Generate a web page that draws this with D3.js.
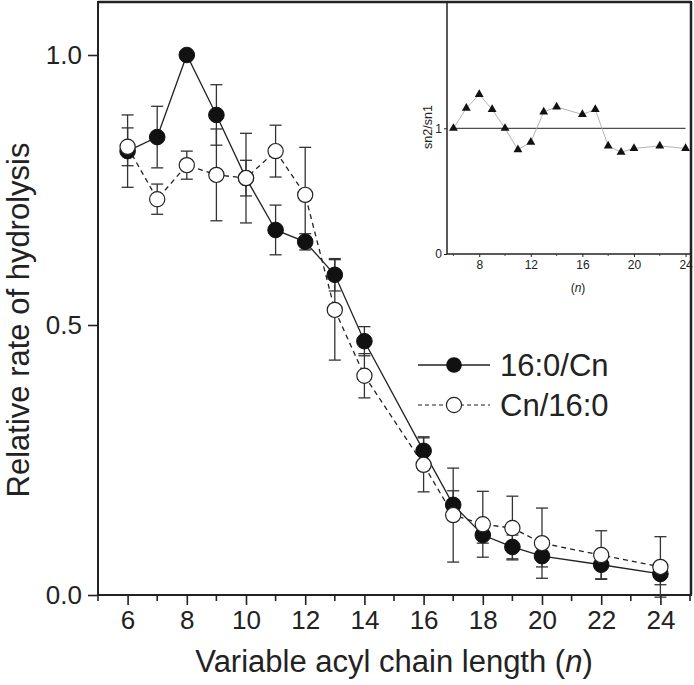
<!DOCTYPE html>
<html><head><meta charset="utf-8">
<script src="https://cdn.jsdelivr.net/npm/d3@7"></script>
<style>body{margin:0;background:#fff}svg{display:block}text{font-family:"Liberation Sans",Arial,sans-serif;fill:#222}</style>
</head><body><svg id="c" width="694" height="685"></svg>
<script>
const chainLength = [6,7,8,9,10,11,12,13,14,16,17,18,19,20,22,24];
const sn2Values = [0.822,0.848,1.0,0.889,0.772,0.676,0.654,0.593,0.470,0.267,0.167,0.111,0.089,0.072,0.056,0.039];
const sn2Errors = [0.067,0.057,0,0.056,0.033,0.046,0.015,0.030,0.027,0.026,0.026,0.015,0.022,0.020,0.026,0.020];
const sn1Values = [0.830,0.733,0.796,0.778,0.772,0.822,0.741,0.528,0.406,0.241,0.148,0.131,0.124,0.096,0.074,0.052];
const sn1Errors = [0.035,0.028,0.026,0.085,0.083,0.048,0.088,0.093,0.041,0.050,0.087,0.061,0.059,0.065,0.045,0.056];
const ratioValues = [1.0,1.16,1.27,1.15,1.0,0.83,0.89,1.13,1.17,1.11,1.15,0.86,0.81,0.84,0.86,0.84];
const mainXTicks = [6,8,10,12,14,16,18,20,22,24];
const mainXMinor = [5,7,9,11,13,15,17,19,21,23,25];
const mainYTicks = [0,0.5,1.0];
const insetXTicks = [8,12,16,20,24];
const insetXMinor = [6,10,14,18,22];
const insetYTicks = [0,1];
const seriesNames = ["16:0/Cn","Cn/16:0"];

const svg = d3.select("#c");
const x = d3.scaleLinear().domain([5,25]).range([98,690]);
const y = d3.scaleLinear().domain([0,1]).range([595,55]);

// frame
svg.append("rect").attr("x",98).attr("y",2).attr("width",593).attr("height",593)
  .attr("fill","none").attr("stroke","#222").attr("stroke-width",2);

// x axis ticks
const gx = svg.append("g").attr("transform","translate(0,595)");
gx.call(d3.axisBottom(x).tickValues(mainXTicks).tickSize(10).tickPadding(6).tickFormat(d3.format("d")));
gx.select(".domain").remove();
gx.selectAll("line").attr("stroke","#222").attr("stroke-width",1.6);
gx.selectAll("text").attr("font-size",26).style("font-family","Liberation Sans, Arial").attr("fill","#222");
gx.selectAll(".minor").data(mainXMinor).enter().append("line").attr("class","minor")
  .attr("x1",d=>x(d)).attr("x2",d=>x(d)).attr("y1",0).attr("y2",6).attr("stroke","#222").attr("stroke-width",1.6);

const gy = svg.append("g").attr("transform","translate(98,0)");
gy.call(d3.axisLeft(y).tickValues(mainYTicks).tickSize(10).tickPadding(6).tickFormat(d3.format(".1f")));
gy.select(".domain").remove();
gy.selectAll("line").attr("stroke","#222").attr("stroke-width",1.6);
gy.selectAll("text").attr("font-size",26).style("font-family","Liberation Sans, Arial").attr("fill","#222");

// axis labels
const xl = svg.append("text").attr("x",394).attr("y",672).attr("text-anchor","middle").attr("font-size",31);
xl.append("tspan").text("Variable acyl chain length (");
xl.append("tspan").attr("font-style","italic").text("n");
xl.append("tspan").text(")");
svg.append("text").attr("transform","translate(29,320) rotate(-90)").attr("text-anchor","middle")
  .attr("font-size",31).text("Relative rate of hydrolysis");

// data
const d2 = chainLength.map((n,i)=>({n,v:sn2Values[i],e:sn2Errors[i]}));
const d1 = chainLength.map((n,i)=>({n,v:sn1Values[i],e:sn1Errors[i]}));
const line = d3.line().x(d=>x(d.n)).y(d=>y(d.v));

function errs(data){
  const g = svg.append("g").attr("stroke","#333").attr("stroke-width",1.3);
  data.filter(d=>d.e>0).forEach(d=>{
    g.append("line").attr("x1",x(d.n)).attr("x2",x(d.n)).attr("y1",y(d.v-d.e)).attr("y2",y(d.v+d.e));
    [d.v-d.e,d.v+d.e].forEach(v=>g.append("line").attr("x1",x(d.n)-6).attr("x2",x(d.n)+6).attr("y1",y(v)).attr("y2",y(v)));
  });
}
errs(d2); errs(d1);
svg.append("path").datum(d2).attr("d",line).attr("fill","none").attr("stroke","#222").attr("stroke-width",1.3);
svg.append("path").datum(d1).attr("d",line).attr("fill","none").attr("stroke","#222").attr("stroke-width",1.3).attr("stroke-dasharray","5,4");
svg.append("g").selectAll("circle").data(d2).enter().append("circle")
  .attr("cx",d=>x(d.n)).attr("cy",d=>y(d.v)).attr("r",7.8).attr("fill","#111").attr("stroke","#111");
svg.append("g").selectAll("circle").data(d1).enter().append("circle")
  .attr("cx",d=>x(d.n)).attr("cy",d=>y(d.v)).attr("r",7.6).attr("fill","#fff").attr("stroke","#222").attr("stroke-width",1.2);

// legend
const lg = svg.append("g");
lg.append("line").attr("x1",418).attr("x2",490).attr("y1",365).attr("y2",365).attr("stroke","#222").attr("stroke-width",1.3);
lg.append("circle").attr("cx",454).attr("cy",365).attr("r",7.8).attr("fill","#111");
lg.append("text").attr("x",500).attr("y",376).attr("font-size",31).text(seriesNames[0]);
lg.append("line").attr("x1",418).attr("x2",490).attr("y1",405).attr("y2",405).attr("stroke","#222").attr("stroke-width",1.2).attr("stroke-dasharray","4,3");
lg.append("circle").attr("cx",454).attr("cy",405).attr("r",7.6).attr("fill","#fff").attr("stroke","#222").attr("stroke-width",1.2);
lg.append("text").attr("x",500).attr("y",416).attr("font-size",31).text(seriesNames[1]);

// inset
const ix = d3.scaleLinear().domain([5.5,24.5]).range([447,692]);
const iy = d3.scaleLinear().domain([0,2]).range([254,2.6]);
svg.append("rect").attr("x",447).attr("y",3).attr("width",243).attr("height",251).attr("fill","#fff");
svg.append("line").attr("x1",447).attr("x2",447).attr("y1",2).attr("y2",254).attr("stroke","#222").attr("stroke-width",1.5);
svg.append("line").attr("x1",447).attr("x2",691).attr("y1",254).attr("y2",254).attr("stroke","#222").attr("stroke-width",1.5);
svg.append("line").attr("x1",98).attr("x2",691).attr("y1",2).attr("y2",2).attr("stroke","#222").attr("stroke-width",2.5);
svg.append("line").attr("x1",691).attr("x2",691).attr("y1",2).attr("y2",595).attr("stroke","#222").attr("stroke-width",2.5);

const igx = svg.append("g").attr("transform","translate(0,254)");
igx.call(d3.axisBottom(ix).tickValues(insetXTicks).tickSize(3).tickPadding(3).tickFormat(d3.format("d")));
igx.select(".domain").remove();
igx.selectAll("line").attr("stroke","#222");
igx.selectAll("text").attr("font-size",12).style("font-family","Liberation Sans, Arial").attr("fill","#333");
igx.selectAll(".minor").data(insetXMinor).enter().append("line").attr("class","minor")
  .attr("x1",d=>ix(d)).attr("x2",d=>ix(d)).attr("y1",0).attr("y2",2).attr("stroke","#444");
const igy = svg.append("g").attr("transform","translate(447,0)");
igy.call(d3.axisLeft(iy).tickValues(insetYTicks).tickSize(3).tickPadding(2).tickFormat(d3.format("d")));
igy.select(".domain").remove();
igy.selectAll("line").attr("stroke","#222");
igy.selectAll("text").attr("font-size",12).style("font-family","Liberation Sans, Arial").attr("fill","#333");

svg.append("text").attr("transform","translate(432,127) rotate(-90)").attr("text-anchor","middle")
  .attr("font-size",12.5).attr("fill","#333").text("sn2/sn1");
const inl = svg.append("text").attr("x",578).attr("y",292).attr("text-anchor","middle").attr("font-size",12).attr("fill","#333");
inl.append("tspan").text("(");
inl.append("tspan").attr("font-style","italic").text("n");
inl.append("tspan").text(")");

svg.append("line").attr("x1",ix(6)).attr("x2",ix(24)).attr("y1",iy(1)).attr("y2",iy(1)).attr("stroke","#222").attr("stroke-width",1);
const rd = chainLength.map((n,i)=>({n,v:ratioValues[i]}));
svg.append("path").datum(rd).attr("d",d3.line().x(d=>ix(d.n)).y(d=>iy(d.v)))
  .attr("fill","none").attr("stroke","#aaa").attr("stroke-width",0.9);
svg.append("g").selectAll("path").data(rd).enter().append("path")
  .attr("transform",d=>`translate(${ix(d.n)},${iy(d.v)})`)
  .attr("d",d3.symbol().type(d3.symbolTriangle).size(34)).attr("fill","#111");
</script></body></html>
